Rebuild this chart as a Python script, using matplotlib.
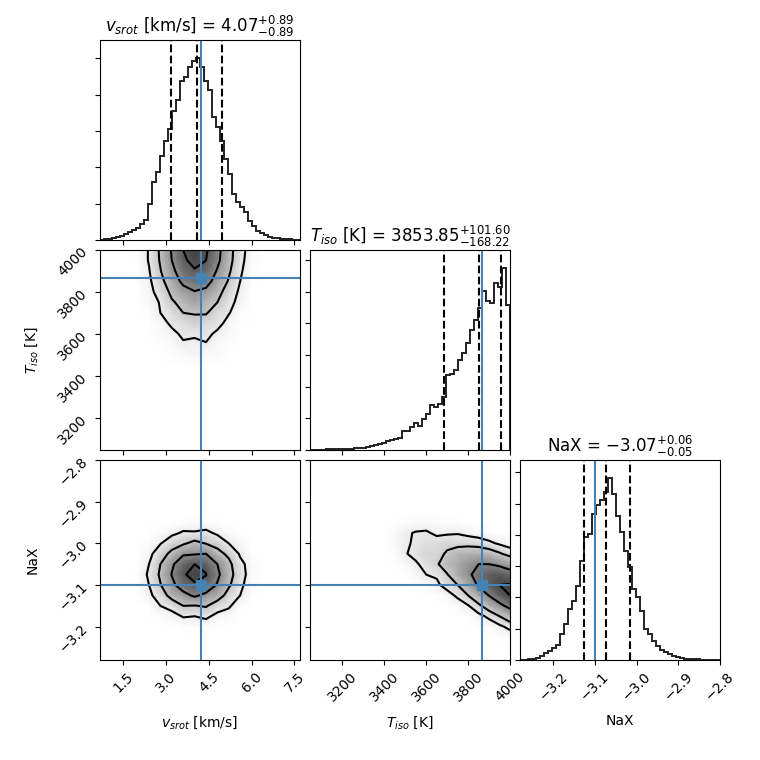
import numpy as np
import matplotlib
matplotlib.use("Agg")
import matplotlib.pyplot as plt
from matplotlib.colors import LinearSegmentedColormap
from matplotlib.ticker import MaxNLocator, MultipleLocator

# ====== data ======
labels = [r"$v_{srot}$ [km/s]", r"$T_{iso}$ [K]", "NaX"]
ranges = [(0.68, 7.70), (3045.0, 4000.0), (-3.28, -2.80)]
truths = [4.21, 3864.0, -3.10]
quantiles = [(3.18, 4.07, 4.96), (3685.63, 3853.85, 3955.45), (-3.127, -3.073, -3.017)]
title_fmt = [".2f", ".2f", ".2f"]

# 1D histograms, 50 bins over each range, normalised to the peak
hist_vsrot = [0.002, 0.004, 0.005, 0.011, 0.018, 0.022, 0.031, 0.042, 0.055, 0.066,
              0.088, 0.110, 0.200, 0.317, 0.372, 0.463, 0.546, 0.610, 0.711, 0.769,
              0.875, 0.894, 0.949, 0.982, 1.000, 0.949, 0.875, 0.824, 0.674, 0.619,
              0.546, 0.445, 0.363, 0.253, 0.207, 0.179, 0.152, 0.106, 0.079, 0.051,
              0.037, 0.026, 0.016, 0.013, 0.009, 0.007, 0.005, 0.004, 0.002, 0.001]
hist_tiso = [0.002, 0.002, 0.002, 0.002, 0.004, 0.004, 0.006, 0.007, 0.006, 0.006,
             0.007, 0.009, 0.011, 0.011, 0.015, 0.024, 0.029, 0.033, 0.040, 0.048,
             0.057, 0.061, 0.066, 0.103, 0.105, 0.128, 0.147, 0.132, 0.169, 0.198,
             0.248, 0.235, 0.253, 0.294, 0.411, 0.418, 0.440, 0.495, 0.536, 0.587,
             0.661, 0.716, 0.780, 0.872, 0.817, 0.807, 0.917, 0.899, 1.000, 0.800]
hist_nax = [0.002, 0.002, 0.004, 0.007, 0.013, 0.022, 0.037, 0.051, 0.066, 0.084,
            0.143, 0.198, 0.281, 0.327, 0.409, 0.547, 0.675, 0.694, 0.804, 0.850,
            0.881, 0.923, 1.000, 0.914, 0.794, 0.703, 0.602, 0.510, 0.391, 0.345,
            0.272, 0.171, 0.143, 0.106, 0.079, 0.055, 0.044, 0.033, 0.024, 0.017,
            0.011, 0.007, 0.006, 0.004, 0.004, 0.002, 0.002, 0.001, 0.000, 0.000]

# 2D density grids (values at grid nodes)
vsrot_nodes = [1.6, 2.0, 2.4, 2.8, 3.2, 3.6, 4.0, 4.4, 4.8, 5.2, 5.6, 6.0, 6.4, 6.8]
tiso_nodes = [3400, 3450, 3500, 3550, 3600, 3650, 3700, 3750, 3800, 3850, 3900, 3950, 4000]
nax_nodes = [-3.25, -3.225, -3.20, -3.175, -3.15, -3.125, -3.10, -3.075,
             -3.05, -3.025, -3.00, -2.975, -2.95, -2.925]

# rows: Tiso nodes (bottom -> top), columns: vsrot nodes
dens_vsrot_tiso = [
    [0, 0, 0, 0, 0, 0, 0, 0, 0, 0, 0, 0, 0, 0],
    [0, 0, 1, 2, 4, 5, 6, 5, 4, 3, 1, 1, 0, 0],
    [0, 1, 3, 4, 7, 8, 11, 8, 8, 4, 2, 1, 0, 0],
    [0, 1, 2, 6, 8, 13, 12, 14, 9, 7, 3, 1, 0, 0],
    [0, 2, 3, 8, 11, 18, 17, 19, 12, 9, 4, 2, 1, 0],
    [0, 2, 5, 9, 18, 21, 28, 22, 20, 10, 6, 2, 1, 0],
    [0, 3, 6, 15, 21, 33, 34, 35, 22, 16, 7, 3, 1, 0],
    [0, 3, 9, 16, 31, 38, 48, 40, 33, 19, 11, 4, 1, 0],
    [0, 3, 10, 22, 37, 50, 57, 53, 39, 25, 12, 5, 2, 0],
    [0, 4, 12, 27, 45, 63, 71, 66, 49, 31, 15, 6, 2, 0],
    [0, 5, 14, 32, 52, 72, 82, 76, 56, 36, 17, 7, 2, 0],
    [0, 6, 16, 35, 58, 80, 91, 84, 63, 40, 19, 8, 3, 0],
    [0, 6, 16, 36, 60, 84, 95, 87, 65, 41, 20, 9, 3, 0],
]
# rows: NaX nodes (bottom -> top), columns: vsrot nodes
dens_vsrot_nax = [
    [0, 0, 0, 0, 0, 0, 0, 0, 0, 0, 0, 0, 0, 0],
    [0, 0, 1, 1, 2, 3, 3, 3, 2, 1, 1, 0, 0, 0],
    [0, 0, 1, 3, 4, 6, 7, 6, 5, 3, 1, 1, 0, 0],
    [0, 1, 3, 7, 9, 15, 14, 17, 10, 8, 3, 1, 0, 0],
    [0, 3, 5, 14, 19, 32, 31, 34, 21, 16, 6, 3, 1, 0],
    [0, 4, 11, 21, 40, 50, 62, 52, 43, 24, 14, 5, 2, 0],
    [0, 5, 14, 31, 52, 71, 81, 75, 56, 35, 17, 7, 2, 0],
    [0, 6, 16, 35, 59, 81, 92, 85, 63, 40, 20, 8, 3, 0],
    [0, 5, 14, 32, 54, 74, 84, 77, 58, 37, 18, 8, 3, 0],
    [0, 5, 9, 25, 36, 55, 56, 58, 38, 28, 12, 6, 2, 0],
    [0, 2, 7, 13, 25, 29, 38, 31, 26, 14, 9, 3, 1, 0],
    [0, 1, 2, 7, 10, 16, 15, 18, 11, 8, 3, 2, 1, 0],
    [0, 0, 1, 2, 5, 5, 8, 5, 6, 2, 2, 1, 0, 0],
    [0, 0, 0, 0, 0, 0, 0, 0, 0, 0, 0, 0, 0, 0],
]
# one list per Tiso node, values along NaX nodes (bottom -> top)
dens_tiso_nax_cols = [
    [0, 0, 0, 0, 0, 0, 0, 0, 0, 0, 0, 0, 0, 0],
    [0, 0, 0, 0, 0, 0, 1, 2, 4, 7, 9, 8, 5, 0],
    [0, 0, 0, 0, 0, 0, 2, 5, 8, 14, 13, 13, 7, 0],
    [0, 0, 0, 0, 0, 1, 3, 9, 13, 19, 17, 16, 8, 0],
    [0, 0, 0, 0, 1, 3, 7, 15, 20, 25, 21, 17, 8, 0],
    [0, 0, 0, 0, 2, 4, 12, 17, 27, 24, 22, 12, 8, 0],
    [0, 0, 0, 1, 5, 9, 21, 28, 38, 31, 25, 13, 7, 0],
    [0, 0, 1, 3, 7, 18, 29, 44, 44, 40, 23, 14, 4, 0],
    [0, 0, 2, 5, 14, 29, 46, 57, 55, 41, 24, 11, 4, 0],
    [0, 1, 4, 11, 25, 45, 65, 72, 62, 42, 22, 9, 3, 0],
    [0, 2, 7, 18, 39, 63, 81, 80, 62, 38, 18, 6, 2, 0],
    [0, 4, 12, 29, 55, 80, 92, 82, 57, 31, 13, 4, 1, 0],
    [0, 7, 19, 41, 70, 92, 94, 75, 47, 23, 9, 3, 1, 0],
]

hists = [hist_vsrot, hist_tiso, hist_nax]
hist_ytick_step = [0.2, 0.174, 0.172]
nodes = [vsrot_nodes, tiso_nodes, nax_nodes]
grids = {
    (1, 0): np.array(dens_vsrot_tiso, dtype=float),
    (2, 0): np.array(dens_vsrot_nax, dtype=float),
    (2, 1): np.array(dens_tiso_nax_cols, dtype=float).T,
}

truth_color = "#4682b4"
sig_levels = 1.0 - np.exp(-0.5 * np.arange(0.5, 2.1, 0.5) ** 2)
density_cmap = LinearSegmentedColormap.from_list(
    "density", [(0.0, "white"), (0.06, "white"), (1.0, "#404040")])


def mass_levels(H):
    # like corner: density thresholds enclosing the given mass fractions
    flat = np.sort(H.flatten())[::-1]
    sm = np.cumsum(flat)
    sm /= sm[-1]
    V = np.empty(len(sig_levels))
    for i, v0 in enumerate(sig_levels):
        sel = flat[sm <= v0]
        V[i] = sel[-1] if len(sel) else flat[0]
    V.sort()
    for i in range(1, len(V)):
        if V[i] <= V[i - 1]:
            V[i] = V[i - 1] * 1.0001 + 1e-6
    return V


# ====== plot ======
fig, axes = plt.subplots(3, 3, figsize=(7.6, 7.6), dpi=100)
fig.subplots_adjust(left=100 / 760, right=720 / 760, bottom=100 / 760, top=720 / 760,
                    wspace=0.05, hspace=0.05)

n = 3
for i in range(n):
    for j in range(n):
        ax = axes[i, j]
        if j > i:
            ax.set_visible(False)
            continue

        if i == j:
            edges = np.linspace(ranges[i][0], ranges[i][1], len(hists[i]) + 1)
            ax.stairs(hists[i], edges, color="#222222", lw=1.4)
            for q in quantiles[i]:
                ax.axvline(q, ls="dashed", color="k", lw=1.5)
            ax.axvline(truths[i], color=truth_color, lw=1.5)
            ax.set_xlim(ranges[i])
            ax.set_ylim(0, 1.1 * max(hists[i]))
            ax.yaxis.set_major_locator(MultipleLocator(hist_ytick_step[i]))
            ax.set_yticklabels([])
            lo, md, hi = quantiles[i]
            f = title_fmt[i]
            title = "{0} = ${1}_{{-{2}}}^{{+{3}}}$".format(
                labels[i], format(md, f), format(md - lo, f), format(hi - md, f))
            ax.set_title(title, fontsize=12)
        else:
            H = grids[(i, j)]
            X, Y = np.meshgrid(nodes[j], nodes[i])
            ax.pcolormesh(X, Y, H, shading="gouraud", cmap=density_cmap,
                          vmin=0, vmax=H.max())
            ax.contour(X, Y, H, mass_levels(H), colors="k", linewidths=1.5)
            ax.axvline(truths[j], color=truth_color, lw=1.5)
            ax.axhline(truths[i], color=truth_color, lw=1.5)
            ax.plot(truths[j], truths[i], "s", color=truth_color, ms=7)
            ax.set_xlim(ranges[j])
            ax.set_ylim(ranges[i])
            ax.yaxis.set_major_locator(MaxNLocator(5, prune="lower"))
            if j == 0:
                for t in ax.get_yticklabels():
                    t.set_rotation(45)
                ax.set_ylabel(labels[i])
                ax.yaxis.set_label_coords(-0.3, 0.5)
            else:
                ax.set_yticklabels([])

        ax.xaxis.set_major_locator(MaxNLocator(5, prune="lower"))
        if i == n - 1:
            for t in ax.get_xticklabels():
                t.set_rotation(45)
            ax.set_xlabel(labels[j])
            ax.xaxis.set_label_coords(0.5, -0.27)
        else:
            ax.set_xticklabels([])

plt.savefig("out.png", dpi=100)
